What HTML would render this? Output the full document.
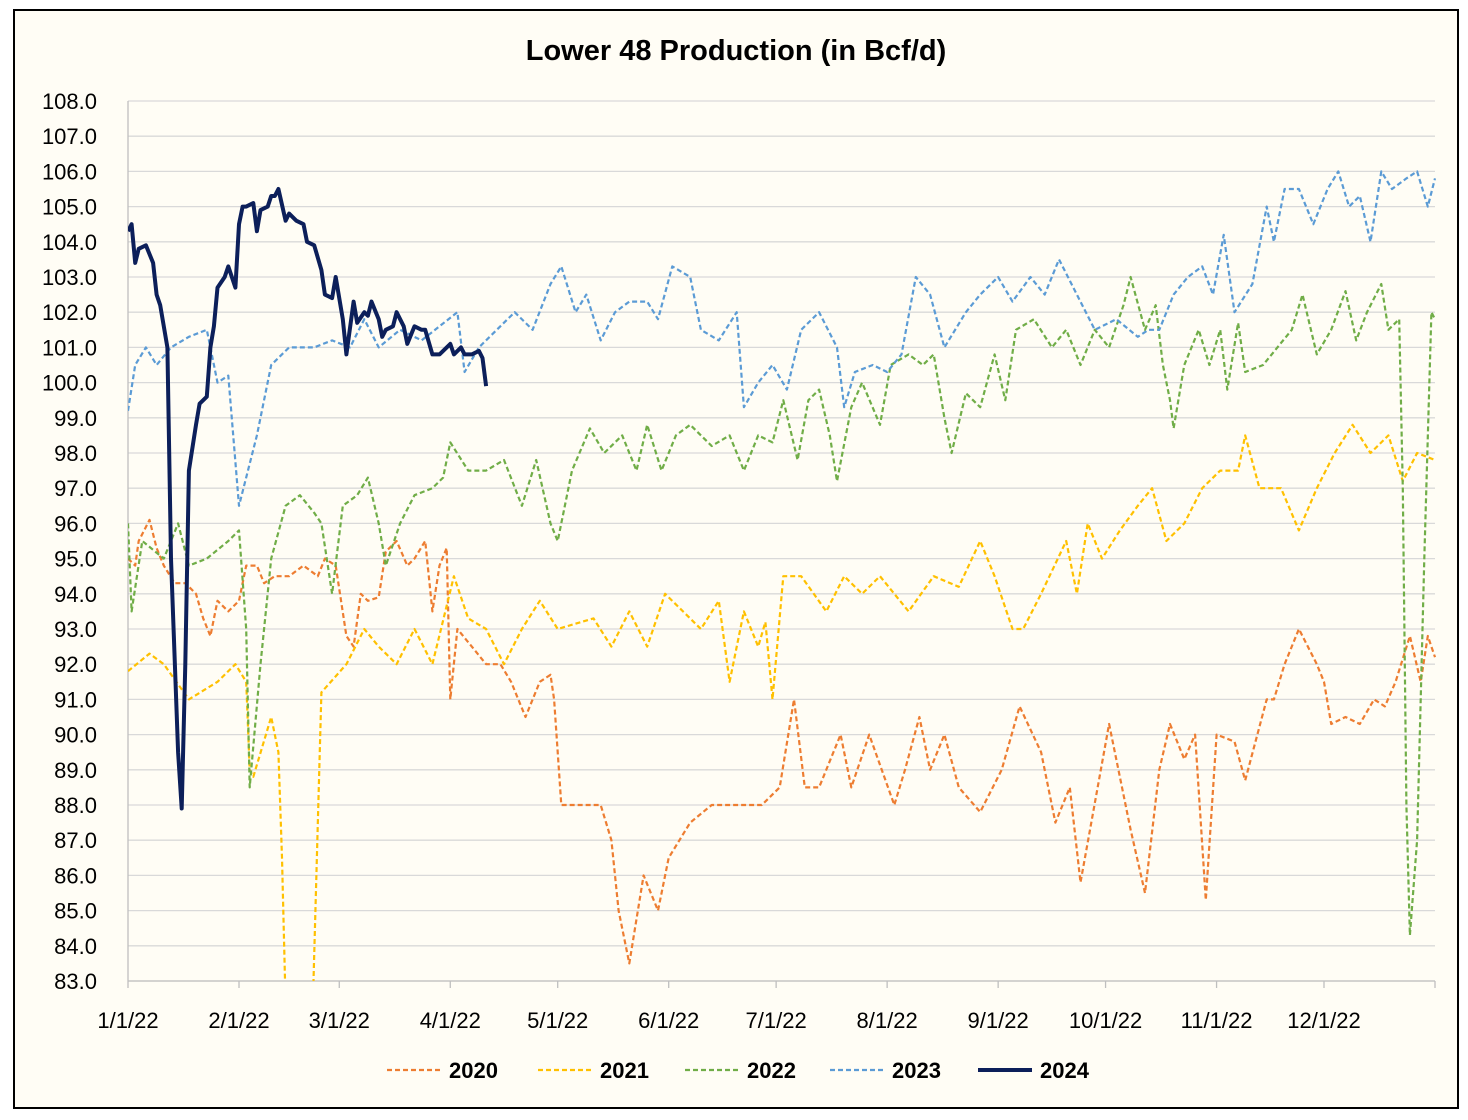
<!DOCTYPE html>
<html><head><meta charset="utf-8">
<style>
html,body{margin:0;padding:0;background:#fff;width:1468px;height:1120px;overflow:hidden;}
#wrap{position:absolute;left:0;top:0;width:1468px;height:1119px;background:#fff;overflow:hidden;}
svg{display:block;}
svg text{font-family:"Liberation Sans",Arial,sans-serif;}
</style></head>
<body>
<div id="wrap">
<svg id="chart" width="1468" height="1119" xmlns="http://www.w3.org/2000/svg">
<rect x="14" y="10" width="1444" height="1098" fill="#fffdf5" stroke="#000" stroke-width="2"/>
<text x="736" y="60" text-anchor="middle" font-size="29" font-weight="bold" fill="#000">Lower 48 Production (in Bcf/d)</text>
<defs><clipPath id="plotclip"><rect x="128" y="95" width="1310" height="886"/></clipPath></defs>
<g id="grid"></g>
<g id="yticks"></g>
<g id="xticks"></g>
<g id="series" clip-path="url(#plotclip)"></g>
<g id="legend"></g>
</svg>
</div>
<script>
const yTicks=[108,107,106,105,104,103,102,101,100,99,98,97,96,95,94,93,92,91,90,89,88,87,86,85,84,83];
const xTickLabels=["1/1/22","2/1/22","3/1/22","4/1/22","5/1/22","6/1/22","7/1/22","8/1/22","9/1/22","10/1/22","11/1/22","12/1/22"];
const xTickDays=[0,31,59,90,120,151,181,212,243,273,304,334];
const seriesNames=["2020","2021","2022","2023","2024"];

const d2020=[0,2,3,6,8,10,13,16,19,21,23,25,28,31,33,36,38,41,45,49,53,55,58,61,63,65,67,70,72,75,78,80,83,85,87,89,90,92,96,100,104,107,111,115,118,119,121,132,135,137,140,144,148,151,157,163,171,177,182,186,189,193,199,202,207,214,217,221,224,228,232,238,244,249,255,259,263,266,274,280,284,288,291,295,298,301,304,309,312,318,320,323,327,332,334,336,340,344,348,351,354,358,361,363,365];
const v2020=[95,94.8,95.5,96.1,95.3,94.8,94.3,94.3,94,93.3,92.8,93.8,93.5,93.8,94.8,94.8,94.3,94.5,94.5,94.8,94.5,95,94.8,92.8,92.5,94,93.8,93.9,95.2,95.5,94.8,95,95.5,93.5,94.8,95.3,91,93,92.5,92,92,91.5,90.5,91.5,91.7,91,88,88,87,85,83.5,86,85,86.5,87.5,88,88,88,88.5,91,88.5,88.5,90,88.5,90,88,89,90.5,89,90,88.5,87.8,89,90.8,89.5,87.5,88.5,85.8,90.3,87.3,85.5,89,90.3,89.3,90,85.3,90,89.8,88.7,91,91,92,93,92,91.5,90.3,90.5,90.3,91,90.8,91.5,92.8,91.5,92.8,92.2];

const d2021=[0,6,10,17,25,30,33,34,35,40,42,43,47,51,54,61,66,70,75,80,85,91,95,100,105,110,115,120,130,135,140,145,150,155,160,165,168,172,176,178,180,183,188,195,200,205,210,218,225,232,238,242,247,250,255,262,265,268,272,277,282,286,290,295,300,305,310,312,316,322,327,332,337,342,347,352,356,360,365];
const v2021=[91.8,92.3,92,91,91.5,92,91.5,89,88.8,90.5,89.5,86.5,70,80,91.2,92,93,92.5,92,93,92,94.5,93.3,93,92,93,93.8,93,93.3,92.5,93.5,92.5,94,93.5,93,93.8,91.5,93.5,92.5,93.2,91,94.5,94.5,93.5,94.5,94,94.5,93.5,94.5,94.2,95.5,94.5,93,93,94,95.5,94,96,95,95.8,96.5,97,95.5,96,97,97.5,97.5,98.5,97,97,95.8,97,98,98.8,98,98.5,97.2,98,97.8];

const d2022=[0,1,4,10,14,17,22,28,31,33,34,37,40,44,48,52,54,57,60,64,67,70,72,76,80,85,88,90,95,100,105,110,114,118,120,124,129,133,138,142,145,149,153,157,163,168,172,176,180,183,187,190,193,196,198,202,205,210,213,218,222,225,228,230,234,238,242,245,248,253,258,262,266,270,274,278,280,284,287,289,291,292,295,299,302,305,307,310,312,317,321,325,328,332,336,340,343,346,350,352,355,356,357,358,360,362,364,365];
const v2022=[96,93.5,95.5,95,96,94.8,95,95.5,95.8,93,88.5,92,95,96.5,96.8,96.3,96,94,96.5,96.8,97.3,96,94.8,96,96.8,97,97.3,98.3,97.5,97.5,97.8,96.5,97.8,96,95.5,97.5,98.7,98,98.5,97.5,98.8,97.5,98.5,98.8,98.2,98.5,97.5,98.5,98.3,99.5,97.8,99.5,99.8,98.5,97.2,99.3,100,98.8,100.5,100.8,100.5,100.8,99,98,99.7,99.3,100.8,99.5,101.5,101.8,101,101.5,100.5,101.5,101,102.2,103,101.5,102.2,100.5,99.5,98.7,100.5,101.5,100.5,101.5,99.8,101.7,100.3,100.5,101,101.5,102.5,100.8,101.5,102.6,101.2,102,102.8,101.5,101.8,97,88,84.3,87,95,102,101.8];

const d2023=[0,2,5,8,12,17,22,25,28,31,36,40,45,52,57,62,66,70,76,82,87,92,94,98,103,108,113,118,121,125,128,132,136,140,145,148,152,157,160,165,170,172,176,180,184,188,193,198,200,203,208,212,216,220,224,228,234,238,243,247,252,256,260,265,270,276,282,285,288,292,296,300,303,306,309,314,318,320,323,327,331,335,338,341,344,347,350,353,357,360,363,365];
const v2023=[99.2,100.5,101,100.5,101,101.3,101.5,100,100.2,96.5,98.5,100.5,101,101,101.2,101,101.8,101,101.5,101.2,101.6,102,100.3,101,101.5,102,101.5,102.8,103.3,102,102.5,101.2,102,102.3,102.3,101.8,103.3,103,101.5,101.2,102,99.3,100,100.5,99.8,101.5,102,101,99.3,100.3,100.5,100.3,100.8,103,102.5,101,102,102.5,103,102.3,103,102.5,103.5,102.5,101.5,101.8,101.3,101.5,101.5,102.5,103,103.3,102.5,104.2,102,102.8,105,104,105.5,105.5,104.5,105.5,106,105,105.3,104,106,105.5,105.8,106,105,105.8];

const d2024=[0,1,2,3,5,7,8,9,11,12,14,15,16,17,19,20,22,23,24,25,27,28,30,31,32,33,35,36,37,39,40,41,42,44,45,47,49,50,52,54,55,57,58,60,61,63,64,66,67,68,70,71,72,74,75,77,78,80,82,83,85,87,88,90,91,93,94,96,98,99,100];
const v2024=[104.3,104.5,103.4,103.8,103.9,103.4,102.5,102.2,101,95,89.5,87.9,92,97.5,98.8,99.4,99.6,101,101.6,102.7,103,103.3,102.7,104.5,105,105,105.1,104.3,104.9,105,105.3,105.3,105.5,104.6,104.8,104.6,104.5,104,103.9,103.2,102.5,102.4,103,101.8,100.8,102.3,101.7,102,101.9,102.3,101.8,101.3,101.5,101.6,102,101.6,101.1,101.6,101.5,101.5,100.8,100.8,100.9,101.1,100.8,101,100.8,100.8,100.9,100.7,99.9];

const NS="http://www.w3.org/2000/svg";
const X0=128,X1=1435,Y0=101,Y1=981,VMAX=108,VMIN=83;
function xScale(d){return X0+(X1-X0)*d/365;}
function yScale(v){return Y0+(Y1-Y0)*(VMAX-v)/(VMAX-VMIN);}
function mk(tag,attrs,parent){const e=document.createElementNS(NS,tag);for(const k in attrs)e.setAttribute(k,attrs[k]);parent.appendChild(e);return e;}

const grid=document.getElementById('grid'),yt=document.getElementById('yticks'),xt=document.getElementById('xticks');
yTicks.forEach(v=>{
  const l=mk('line',{x1:X0,x2:X1,y1:yScale(v),y2:yScale(v),stroke:'#d9d9d9','stroke-width':1.3},grid);
  
  
  const t=mk('text',{x:97,y:yScale(v)+8,'text-anchor':'end','font-size':22,fill:'#000'},yt);
  t.textContent=v.toFixed(1);
  
  
});
const ax=mk('line',{x1:X0,x2:X0,y1:Y0,y2:Y1,stroke:'#bfbfbf','stroke-width':1.3},grid);


const bx=mk('line',{x1:X0,x2:X1,y1:Y1,y2:Y1,stroke:'#bfbfbf','stroke-width':1.3},grid);


xTickDays.concat([365]).forEach(d=>{
  const tk=mk('line',{x1:xScale(d),x2:xScale(d),y1:Y1,y2:Y1+7,stroke:'#bfbfbf','stroke-width':1.3},xt);
  
  
});
xTickLabels.forEach((lab,i)=>{
  const t=mk('text',{x:xScale(xTickDays[i]),y:1028,'text-anchor':'middle','font-size':22,fill:'#000'},xt);
  t.textContent=lab;
  
  
});

const seriesDays=[d2020,d2021,d2022,d2023,d2024];
const seriesVals=[v2020,v2021,v2022,v2023,v2024];
const colors=['#ed7d31','#ffc000','#70ad47','#5b9bd5','#0c1f5a'];
const sg=document.getElementById('series');
seriesNames.forEach((n,i)=>{
  const pts=seriesDays[i].map((d,j)=>xScale(d).toFixed(1)+','+yScale(seriesVals[i][j]).toFixed(1)).join(' ');
  const solid=i===4;
  const p=mk('polyline',{points:pts,fill:'none',stroke:colors[i],'stroke-width':solid?4:2.2,'stroke-linejoin':'round','stroke-dasharray':solid?'none':'5,3'},sg);
  
  
});

const lg=document.getElementById('legend');
const lx=[387,538,685,830,978];
seriesNames.forEach((n,i)=>{
  const solid=i===4;
  const l=mk('line',{x1:lx[i],x2:lx[i]+54,y1:1070,y2:1070,stroke:colors[i],'stroke-width':solid?4:2.2,'stroke-dasharray':solid?'none':'5,3'},lg);
  
  
  const t=mk('text',{x:lx[i]+62,y:1078,'font-size':22,'font-weight':'bold',fill:'#000'},lg);
  t.textContent=n;
  
  
});
</script>
</body></html>
